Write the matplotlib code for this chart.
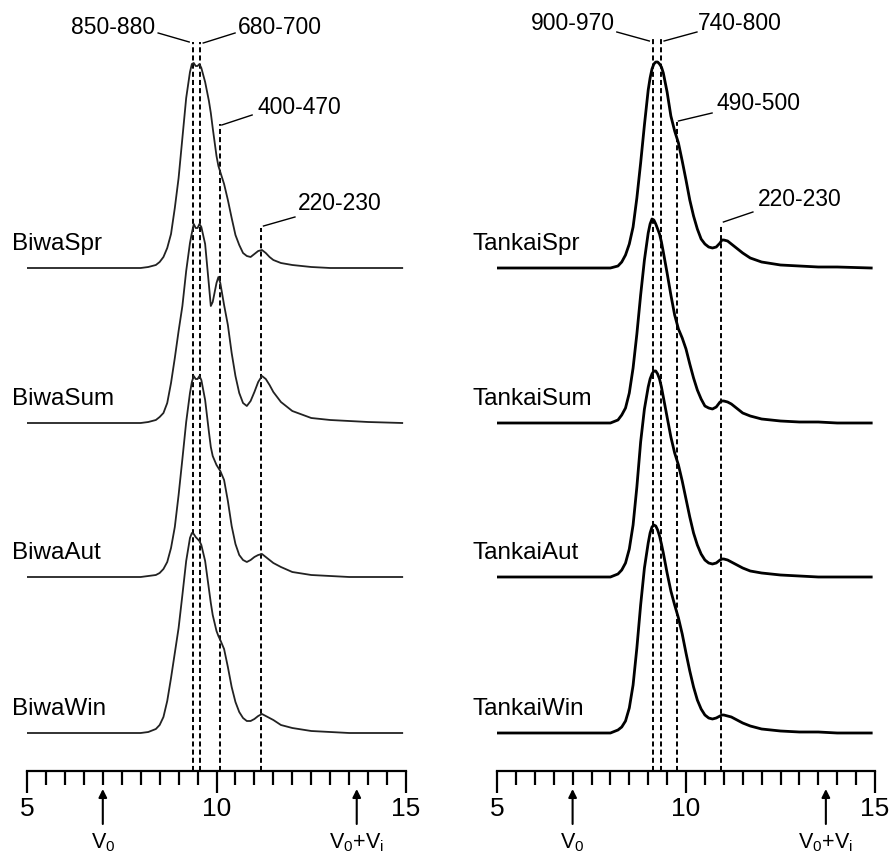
import matplotlib
matplotlib.use("Agg")
import matplotlib.pyplot as plt
from matplotlib.ticker import MultipleLocator, FixedLocator

plt.rcParams['font.family'] = ['Liberation Sans', 'DejaVu Sans']
plt.rcParams['mathtext.default'] = 'regular'

# Elution volume (mL) sampling grids
vol_biwa = [5.0, 6.0, 7.0, 7.5, 8.0, 8.2, 8.4, 8.5, 8.6, 8.7, 8.8, 8.9, 9.0, 9.1, 9.2, 9.3,
            9.35, 9.4, 9.45, 9.5, 9.55, 9.6, 9.7, 9.8, 9.85, 9.9, 10.0, 10.05, 10.1, 10.2,
            10.3, 10.4, 10.5, 10.6, 10.7, 10.8, 10.9, 11.0, 11.1, 11.2, 11.3, 11.4, 11.5,
            11.7, 12.0, 12.5, 13.0, 13.5, 14.0, 14.9]
vol_tankai = [5.0, 6.0, 7.0, 7.5, 8.0, 8.2, 8.3, 8.4, 8.5, 8.6, 8.7, 8.8, 8.9, 9.0, 9.05,
              9.1, 9.15, 9.2, 9.25, 9.3, 9.35, 9.4, 9.5, 9.6, 9.7, 9.8, 9.9, 10.0, 10.1,
              10.2, 10.3, 10.4, 10.5, 10.6, 10.7, 10.8, 10.9, 10.95, 11.0, 11.1, 11.2, 11.3,
              11.4, 11.5, 11.7, 12.0, 12.5, 13.0, 13.5, 14.0, 14.9]

# Detector response (relative units)
biwa_spr = [0, 0, 0, 0, 0, 1, 3, 6, 11, 20, 34, 60, 90, 130, 170, 196,
            204, 205, 202, 202, 204, 200, 186, 167, 155, 140, 112, 102, 96, 84,
            68, 50, 33, 23, 15, 12, 11, 14, 17, 18, 15, 11, 8,
            5, 3, 1, 0, 0, 0, 0]
biwa_sum = [0, 0, 0, 0, 0, 1, 3, 6, 10, 20, 40, 65, 92, 117, 152, 180,
            190, 199, 195, 195, 199, 196, 179, 138, 117, 121, 140, 146, 140, 118,
            98, 70, 47, 30, 20, 17, 22, 31, 41, 47, 44, 38, 31,
            21, 12, 5, 3, 2, 1, 0]
biwa_aut = [0, 0, 0, 0, 0, 1, 2, 4, 8, 15, 29, 50, 82, 118, 155, 184,
            195, 201, 198, 198, 201, 197, 177, 145, 130, 121, 112, 109, 106, 97,
            76, 51, 33, 22, 17, 15, 17, 20, 22, 23, 20, 17, 14,
            10, 5, 2, 1, 0, 0, 0]
biwa_win = [0, 0, 0, 0, 0, 1, 4, 8, 16, 32, 55, 80, 105, 138, 172, 195,
            200, 199, 196, 194, 192, 188, 172, 144, 130, 118, 102, 97, 93, 84,
            66, 46, 31, 21, 15, 12, 12, 14, 17, 19, 17, 15, 13,
            8, 5, 2, 1, 0, 0, 0]

tankai_spr = [0, 0, 0, 0, 0, 2, 6, 13, 24, 41, 70, 105, 143, 178, 190, 199,
              204, 206, 206, 204, 201, 195, 176, 152, 137, 125, 107, 88, 68, 52,
              39, 29, 24, 21, 20, 21, 25, 28, 28, 27, 24, 21, 18,
              15, 10, 6, 3, 2, 1, 1, 0]
tankai_sum = [0, 0, 0, 0, 0, 3, 8, 15, 30, 55, 89, 128, 163, 190, 199, 204,
              203, 199, 194, 189, 181, 171, 150, 128, 108, 94, 85, 74, 59, 45,
              33, 24, 17, 15, 14, 16, 21, 22, 22, 21, 19, 16, 13,
              10, 7, 4, 2, 1, 1, 0, 0]
tankai_aut = [0, 0, 0, 0, 0, 3, 7, 14, 28, 52, 90, 135, 168, 190, 198, 203,
              206, 206, 203, 198, 190, 180, 160, 140, 124, 112, 96, 78, 60, 44,
              32, 23, 17, 14, 13, 14, 17, 18, 18, 17, 15, 13, 11,
              9, 6, 4, 2, 1, 0, 0, 0]
tankai_win = [0, 0, 0, 0, 0, 3, 6, 12, 25, 48, 85, 128, 165, 190, 200, 206,
              208, 207, 203, 197, 189, 180, 160, 142, 128, 115, 99, 80, 62, 46,
              33, 24, 18, 15, 14, 15, 17, 18, 18, 17, 16, 14, 12,
              10, 7, 4, 2, 1, 1, 0, 0]

biwa_names = ["BiwaSpr", "BiwaSum", "BiwaAut", "BiwaWin"]
tankai_names = ["TankaiSpr", "TankaiSum", "TankaiAut", "TankaiWin"]

# Peak reference positions (mL) and their molecular-size labels
biwa_marks = [9.37, 9.56, 10.09, 11.17]
biwa_mark_labels = ["850-880", "680-700", "400-470", "220-230"]
tankai_marks = [9.12, 9.33, 9.75, 10.93]
tankai_mark_labels = ["900-970", "740-800", "490-500", "220-230"]

# Void volume and total permeation volume
v0 = 7.0
v0_vi = 13.7

offsets = [503, 348, 194, 38]

fig = plt.figure(figsize=(8.95, 8.65), dpi=100)
ax_l = fig.add_axes([27 / 895, 94 / 865, 379 / 895, 771 / 865])
ax_r = fig.add_axes([497 / 895, 94 / 865, 378 / 895, 771 / 865])


def setup(ax):
    ax.set_xlim(5, 15)
    ax.set_ylim(0, 771)
    for s in ("top", "left", "right"):
        ax.spines[s].set_visible(False)
    ax.spines["bottom"].set_linewidth(1.6)
    ax.yaxis.set_visible(False)
    ax.xaxis.set_major_locator(FixedLocator([5, 10, 15]))
    ax.xaxis.set_minor_locator(MultipleLocator(0.5))
    ax.tick_params(axis="x", which="major", direction="out", length=16, width=1.6,
                   labelsize=19, pad=3)
    ax.tick_params(axis="x", which="minor", direction="out", length=10, width=1.6)
    ax.set_xticklabels(["5", "10", "15"])
    ax.patch.set_visible(False)


def draw_panel(ax, vol, series, names, marks, mark_labels, mark_tops, label_x,
               label_pos, leaders, lw, color):
    setup(ax)
    for m, top in zip(marks, mark_tops):
        ax.plot([m, m], [0, top], color="black", lw=1.4, linestyle=(0, (2.6, 1.6)),
                solid_capstyle="butt", zorder=1)
    for y, name, off in zip(series, names, offsets):
        ax.plot(vol, [v + off for v in y], color=color, lw=lw, zorder=2,
                solid_joinstyle="round")
        ax.text(label_x, off + 24, name, fontsize=17.5, ha="left", va="center")
    for txt, (tx, ty, ha), (x0, y0, x1, y1) in zip(mark_labels, label_pos, leaders):
        ax.text(tx, ty, txt, fontsize=16.5, ha=ha, va="center")
        ax.plot([x0, x1], [y0, y1], color="black", lw=1.0)
    for xv, lab in ((v0, r"V$_0$"), (v0_vi, r"V$_0$+V$_i$")):
        ax.annotate("", xy=(xv, -18), xytext=(xv, -53), annotation_clip=False,
                    arrowprops=dict(arrowstyle="-|>", lw=1.5, color="black",
                                    mutation_scale=12, shrinkA=0, shrinkB=0))
        ax.text(xv, -72, lab, fontsize=15.5, ha="center", va="center", clip_on=False)


draw_panel(ax_l, vol_biwa, [biwa_spr, biwa_sum, biwa_aut, biwa_win], biwa_names,
           biwa_marks, biwa_mark_labels, [729, 729, 647, 543], 4.6,
           [(8.38, 744, "right"), (10.57, 744, "left"), (11.07, 664, "left"),
            (12.15, 568, "left")],
           [(8.46, 738, 9.28, 729), (10.49, 738, 9.65, 728),
            (10.94, 656, 10.14, 646), (12.07, 554, 11.24, 545)],
           1.3, "#222222")

draw_panel(ax_r, vol_tankai, [tankai_spr, tankai_sum, tankai_aut, tankai_win], tankai_names,
           tankai_marks, tankai_mark_labels, [732, 732, 649, 546], 4.34,
           [(8.12, 747, "right"), (10.32, 747, "left"), (10.82, 668, "left"),
            (11.9, 571, "left")],
           [(8.17, 739, 9.03, 730), (10.29, 739, 9.42, 730),
            (10.69, 658, 9.8, 650), (11.77, 559, 10.99, 549)],
           2.0, "black")

fig.savefig("out.png", dpi=100)
